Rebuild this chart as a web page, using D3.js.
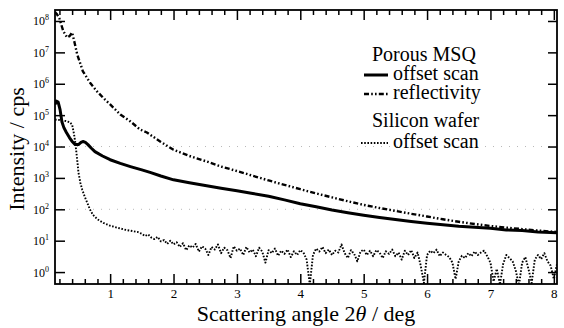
<!DOCTYPE html>
<html>
<head>
<meta charset="utf-8">
<script src="https://cdn.jsdelivr.net/npm/d3@7"></script>
<style>
  html, body { margin: 0; padding: 0; background: #fff; }
  svg { display: block; font-family: "Liberation Serif", "Times New Roman", serif; }
</style>
</head>
<body>
<svg id="chart" width="564" height="328"></svg>
<script>
// Porous MSQ, offset scan (cps)
const msqAngle = [0.13, 0.15, 0.18, 0.21, 0.24, 0.27, 0.31, 0.36, 0.40, 0.45, 0.50, 0.54, 0.57, 0.61, 0.65, 0.70, 0.76, 0.88, 1.0, 1.16, 1.32, 1.5, 1.63, 1.8, 2.0, 2.25, 2.5, 2.75, 3.0, 3.25, 3.5, 3.75, 4.0, 4.25, 4.5, 4.75, 5.0, 5.25, 5.5, 5.75, 6.0, 6.25, 6.5, 6.75, 7.0, 7.25, 7.5, 7.75, 8.05]
const msqOffset = [2.2e5, 2.8e5, 2.6e5, 1.5e5, 6.0e4, 4.0e4, 2.8e4, 1.9e4, 1.45e4, 1.15e4, 1.15e4, 1.35e4, 1.45e4, 1.35e4, 1.15e4, 9.0e3, 6.9e3, 5.0e3, 3.8e3, 2.9e3, 2.3e3, 1.8e3, 1.5e3, 1.15e3, 870, 700, 575, 470, 390, 320, 260, 200, 150, 120, 95, 78, 65, 55, 47, 41, 36, 32, 29, 27, 25, 22, 21, 19, 17.8]

// Porous MSQ, reflectivity (cps)
const reflAngle = [0.13, 0.16, 0.20, 0.26, 0.32, 0.36, 0.40, 0.44, 0.48, 0.57, 0.68, 0.79, 0.90, 1.0, 1.16, 1.32, 1.47, 1.58, 1.8, 2.0, 2.25, 2.53, 2.75, 3.0, 3.25, 3.5, 3.75, 4.0, 4.25, 4.5, 4.75, 5.0, 5.25, 5.5, 5.75, 6.0, 6.25, 6.5, 6.75, 7.0, 7.25, 7.5, 7.75, 8.05]
const reflCps = [1.9e8, 1.66e8, 1.2e8, 4.8e7, 3.0e7, 3.3e7, 4.3e7, 2.0e7, 8.7e6, 2.5e6, 1.1e6, 5.8e5, 3.4e5, 2.2e5, 1.05e5, 6.3e4, 3.5e4, 2.8e4, 1.4e4, 7.9e3, 5.0e3, 3.3e3, 2.3e3, 1.66e3, 1.17e3, 830, 600, 437, 320, 240, 180, 138, 110, 89, 72, 59, 48, 40, 34, 29.5, 26, 23.4, 21, 19]

// Silicon wafer, offset scan (cps)
const siAngle = [0.13, 0.20, 0.30, 0.36, 0.40, 0.43, 0.45, 0.48, 0.50, 0.53, 0.56, 0.60, 0.64, 0.68, 0.73, 0.80, 0.89, 1.0, 1.11, 1.25, 1.43,
  1.50, 1.55, 1.60, 1.65, 1.70, 1.75, 1.80, 1.85, 1.90, 1.95, 2.00, 2.05, 2.10, 2.15, 2.20, 2.25, 2.30, 2.35, 2.40, 2.45,
  2.50, 2.55, 2.60, 2.65, 2.70, 2.75, 2.80, 2.85, 2.90, 2.95, 3.00, 3.05, 3.10, 3.15, 3.20, 3.25, 3.30, 3.35, 3.40, 3.45,
  3.50, 3.55, 3.60, 3.65, 3.70, 3.75, 3.80, 3.85, 3.90, 3.95, 4.00, 4.05, 4.10, 4.15, 4.20, 4.25, 4.30, 4.35, 4.40, 4.45,
  4.50, 4.55, 4.60, 4.65, 4.70, 4.75, 4.80, 4.85, 4.90, 4.95, 5.00, 5.05, 5.10, 5.15, 5.20, 5.25, 5.30, 5.35, 5.40, 5.45,
  5.50, 5.55, 5.60, 5.65, 5.70, 5.75, 5.80, 5.85, 5.90, 5.95, 6.00, 6.05, 6.10, 6.15, 6.20, 6.25, 6.30, 6.35, 6.40, 6.45,
  6.50, 6.55, 6.60, 6.65, 6.70, 6.75, 6.80, 6.85, 6.90, 6.95, 7.00, 7.05, 7.10, 7.15, 7.20, 7.25, 7.30, 7.35, 7.40, 7.45,
  7.50, 7.55, 7.60, 7.65, 7.70, 7.75, 7.80, 7.85, 7.90, 7.95, 8.00, 8.05]
const siOffset = [7.2e4, 7.0e4, 6.5e4, 6.0e4, 5.0e4, 2.5e4, 1.35e4, 3.8e3, 1.5e3, 700, 420, 250, 160, 100, 66, 48, 37, 30, 26, 22, 19,
  16.6, 14.1, 15.8, 12.6, 11.2, 13.2, 9.5, 10.5, 7.9, 10.0, 7.6, 8.9, 6.3, 8.3, 5.0, 7.1, 6.0, 7.9, 4.5, 6.6,
  5.6, 3.5, 6.3, 5.2, 7.6, 4.0, 6.0, 5.0, 2.8, 6.6, 4.8, 5.6, 3.5, 6.3, 4.2, 5.2, 3.2, 6.0, 4.5, 2.0,
  5.0, 4.0, 5.6, 3.3, 4.8, 3.8, 5.2, 3.0, 4.6, 3.5, 5.0, 4.2, 2.5, 0.4, 3.5, 5.6, 4.5, 6.3, 4.0, 5.2,
  3.5, 4.8, 4.2, 7.6, 4.0, 2.8, 5.0, 3.8, 2.2, 4.5, 5.2, 3.5, 4.8, 3.2, 5.0, 4.2, 2.8, 4.6, 3.8, 5.2,
  3.2, 4.2, 2.5, 4.8, 3.5, 5.0, 2.8, 4.2, 1.6, 0.45, 3.5, 4.8, 4.0, 5.2, 3.2, 4.2, 3.5, 3.0, 2.0, 0.6,
  2.2, 3.3, 2.8, 4.0, 3.2, 4.5, 3.5, 4.2, 4.8, 3.2, 2.0, 0.5, 1.26, 0.4, 1.8, 3.5, 2.8, 2.2, 1.1, 0.38,
  2.0, 3.0, 1.26, 0.45, 2.5, 3.5, 2.6, 4.0, 2.2, 1.6, 0.6, 1.8]

const xTickLabels = [1, 2, 3, 4, 5, 6, 7, 8]
const yDecades = [0, 1, 2, 3, 4, 5, 6, 7, 8]
const gridDecades = [2, 4]

const legendTitles = ["Porous MSQ", "Silicon wafer"]
const legendRows = [
  { label: "offset scan", series: "msq" },
  { label: "reflectivity", series: "refl" },
  { label: "offset scan", series: "si" }
]

const width = 564
const height = 328
const margin = { left: 55, right: 7, top: 10, bottom: 44 }

const styles = {
  msq: { width: 3, dash: null },
  refl: { width: 2.4, dash: "5,2.2,1.6,2.2,1.6,2.2" },
  si: { width: 1.9, dash: "1.6,1.6" }
}

const svg = d3.select("#chart")
svg.append("rect").attr("width", width).attr("height", height).attr("fill", "#fff")

const x = d3.scaleLinear()
  .domain([0.13, 8.05])
  .range([margin.left, width - margin.right])

const y = d3.scaleLog()
  .domain([Math.pow(10, -0.38), Math.pow(10, 8.35)])
  .range([height - margin.bottom, margin.top])

const x0 = x.range()[0], x1 = x.range()[1]
const y0 = y.range()[0], y1 = y.range()[1]

svg.append("clipPath").attr("id", "plotClip")
  .append("rect")
  .attr("x", x0).attr("y", y1)
  .attr("width", x1 - x0).attr("height", y0 - y1)

// faint dotted grid lines seen in the scan
svg.append("g")
  .selectAll("line")
  .data(gridDecades)
  .join("line")
  .attr("x1", x0 + 6).attr("x2", x1 - 6)
  .attr("y1", d => y(Math.pow(10, d))).attr("y2", d => y(Math.pow(10, d)))
  .attr("stroke", "#b8b8b8")
  .attr("stroke-width", 1)
  .attr("stroke-dasharray", "1,7")

const minorX = d3.range(0.2, 8.01, 0.2).filter(v => Math.abs(v - Math.round(v)) > 0.01)

function styleAxis(g) {
  g.select(".domain").remove()
  g.selectAll(".tick line").attr("stroke", "#000").attr("stroke-width", 1.5)
}

// bottom axis
svg.append("g")
  .attr("transform", `translate(0,${y0})`)
  .call(d3.axisBottom(x).tickValues(minorX).tickSize(-5).tickFormat(""))
  .call(styleAxis)
svg.append("g")
  .attr("transform", `translate(0,${y0})`)
  .call(d3.axisBottom(x).tickValues(xTickLabels).tickSize(-10).tickPadding(5).tickFormat(d3.format("d")))
  .call(styleAxis)
  .call(g => g.selectAll("text").attr("font-size", 13).attr("fill", "#000")
    .attr("font-family", '"Liberation Serif", serif'))

// top axis
svg.append("g")
  .attr("transform", `translate(0,${y1})`)
  .call(d3.axisTop(x).tickValues(minorX).tickSize(-5).tickFormat(""))
  .call(styleAxis)
svg.append("g")
  .attr("transform", `translate(0,${y1})`)
  .call(d3.axisTop(x).tickValues(xTickLabels).tickSize(-10).tickFormat(""))
  .call(styleAxis)

// left axis
const leftAxis = svg.append("g")
  .attr("transform", `translate(${x0},0)`)
  .call(d3.axisLeft(y).tickValues(yDecades.map(d => Math.pow(10, d))).tickSize(-10).tickPadding(6).tickFormat(""))
  .call(styleAxis)
leftAxis.selectAll(".tick").each(function(d) {
  const t = d3.select(this).append("text")
    .attr("x", -6).attr("y", 4)
    .attr("text-anchor", "end")
    .attr("fill", "#000")
    .attr("font-family", '"Liberation Serif", serif')
  t.append("tspan").attr("font-size", 12).text("10")
  t.append("tspan").attr("font-size", 8).attr("dy", -5).text(Math.round(Math.log10(d)))
})

// right axis
svg.append("g")
  .attr("transform", `translate(${x1},0)`)
  .call(d3.axisRight(y).tickValues(yDecades.map(d => Math.pow(10, d))).tickSize(-9).tickFormat(""))
  .call(styleAxis)

// frame
svg.append("rect")
  .attr("x", x0).attr("y", y1)
  .attr("width", x1 - x0).attr("height", y0 - y1)
  .attr("fill", "none").attr("stroke", "#000").attr("stroke-width", 1.8)

// curves
const line = d3.line().x(d => x(d[0])).y(d => y(d[1]))
const curves = [
  { key: "si", pts: d3.zip(siAngle, siOffset) },
  { key: "refl", pts: d3.zip(reflAngle, reflCps) },
  { key: "msq", pts: d3.zip(msqAngle, msqOffset) }
]
svg.append("g").attr("clip-path", "url(#plotClip)")
  .selectAll("path")
  .data(curves)
  .join("path")
  .attr("d", d => line(d.pts))
  .attr("fill", "none")
  .attr("stroke", "#000")
  .attr("stroke-width", d => styles[d.key].width)
  .attr("stroke-dasharray", d => styles[d.key].dash)
  .attr("stroke-linejoin", "round")

// legend
const legend = svg.append("g").attr("font-size", 20).attr("fill", "#000")
legend.append("text").attr("x", 372).attr("y", 61).text(legendTitles[0])
legend.append("text").attr("x", 372).attr("y", 127).text(legendTitles[1])
const rowY = { msq: 80, refl: 99, si: 148 }
legendRows.forEach(r => {
  legend.append("line")
    .attr("x1", r.series === "si" ? 361 : 364).attr("x2", 388)
    .attr("y1", rowY[r.series] - 5).attr("y2", rowY[r.series] - 5)
    .attr("stroke", "#000")
    .attr("stroke-width", styles[r.series].width)
    .attr("stroke-dasharray", styles[r.series].dash)
  legend.append("text").attr("x", 393).attr("y", rowY[r.series]).text(r.label)
})

// axis titles
svg.append("text")
  .attr("transform", `translate(24,${(y0 + y1) / 2 + 2}) rotate(-90)`)
  .attr("text-anchor", "middle")
  .attr("font-size", 22)
  .text("Intensity / cps")

const xTitle = svg.append("text")
  .attr("x", (x0 + x1) / 2).attr("y", 321)
  .attr("text-anchor", "middle")
  .attr("font-size", 22)
xTitle.append("tspan").text("Scattering angle 2")
xTitle.append("tspan").attr("font-style", "italic").text("θ")
xTitle.append("tspan").text(" / deg")
</script>
</body>
</html>
